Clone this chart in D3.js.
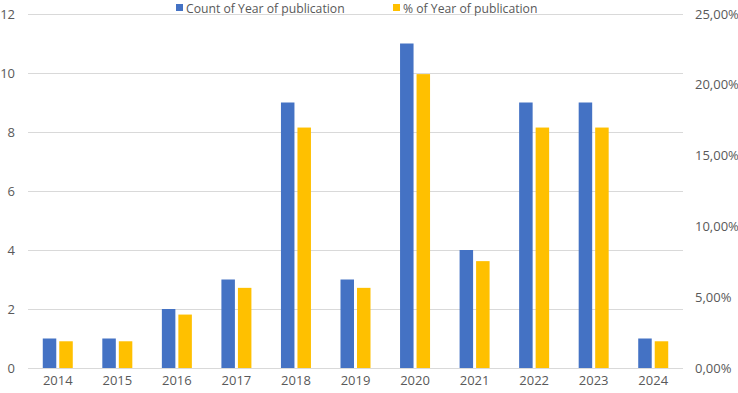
<!DOCTYPE html>
<html><head><meta charset="utf-8">
<script src="https://cdn.jsdelivr.net/npm/d3@7"></script>
<style>body{margin:0;background:#fff;} text{font-family:"Open Sans","Liberation Sans",sans-serif;fill:#595959;}</style>
</head><body><svg id="c" width="738" height="393"></svg>
<script>
const years = ["2014","2015","2016","2017","2018","2019","2020","2021","2022","2023","2024"];
const counts = [1,1,2,3,9,3,11,4,9,9,1];
const total = 53;
const percents = counts.map(c => c / total);
const leftTicks = [0,2,4,6,8,10,12];
const rightTicks = [0,0.05,0.10,0.15,0.20,0.25];
const seriesNames = ["Count of Year of publication","% of Year of publication"];
const colors = ["#4472C4","#FFC000"];

const svg = d3.select("#c");
const x0 = 28, x1 = 683, yTop = 14, yBot = 368;
const x = d3.scaleBand().domain(years).range([x0, x1]).paddingInner(0).paddingOuter(0);
const yL = d3.scaleLinear().domain([0,12]).range([yBot, yTop]);
const yR = d3.scaleLinear().domain([0,0.25]).range([yBot, yTop]);

// gridlines
svg.append("g").selectAll("line").data(leftTicks).join("line")
  .attr("x1", x0).attr("x2", x1).attr("y1", d => yL(d)).attr("y2", d => yL(d))
  .attr("stroke", "#D9D9D9").attr("stroke-width", 1).attr("shape-rendering","crispEdges");

// left axis
const la = svg.append("g").attr("transform", `translate(${x0},0)`)
  .call(d3.axisLeft(yL).tickValues(leftTicks).tickSize(0).tickPadding(13));
la.select(".domain").remove();
la.selectAll("text").style("font-size","13px").attr("fill","#595959");

// right axis
const fmt = d => (d*100).toFixed(2).replace(".", ",") + "%";
const ra = svg.append("g").attr("transform", `translate(${x1},0)`)
  .call(d3.axisRight(yR).tickValues(rightTicks).tickFormat(fmt).tickSize(0).tickPadding(12));
ra.select(".domain").remove();
ra.selectAll("text").style("font-size","13px").attr("fill","#595959");

// bottom axis
const ba = svg.append("g").attr("transform", `translate(0,${yBot})`)
  .call(d3.axisBottom(x).tickSize(0).tickPadding(8));
ba.select(".domain").remove();
ba.selectAll("text").style("font-size","13px").attr("fill","#595959");

// bars
const bw = 13.5, gap = 3;
svg.append("g").selectAll("rect").data(years).join("rect")
  .attr("x", d => x(d) + x.bandwidth()/2 - gap/2 - bw)
  .attr("width", bw)
  .attr("y", (d,i) => yL(counts[i]))
  .attr("height", (d,i) => yBot - yL(counts[i]))
  .attr("fill", colors[0]);
svg.append("g").selectAll("rect").data(years).join("rect")
  .attr("x", d => x(d) + x.bandwidth()/2 + gap/2)
  .attr("width", bw)
  .attr("y", (d,i) => yR(percents[i]))
  .attr("height", (d,i) => yBot - yR(percents[i]))
  .attr("fill", colors[1]);

// legend
const legX = [176, 393];
const lg = svg.append("g");
seriesNames.forEach((n,i) => {
  lg.append("rect").attr("x", legX[i]).attr("y", 4).attr("width", 7).attr("height", 7).attr("fill", colors[i]);
  lg.append("text").attr("x", legX[i] + 10).attr("y", 13).style("font-size","12.2px").text(n);
});
</script></body></html>
